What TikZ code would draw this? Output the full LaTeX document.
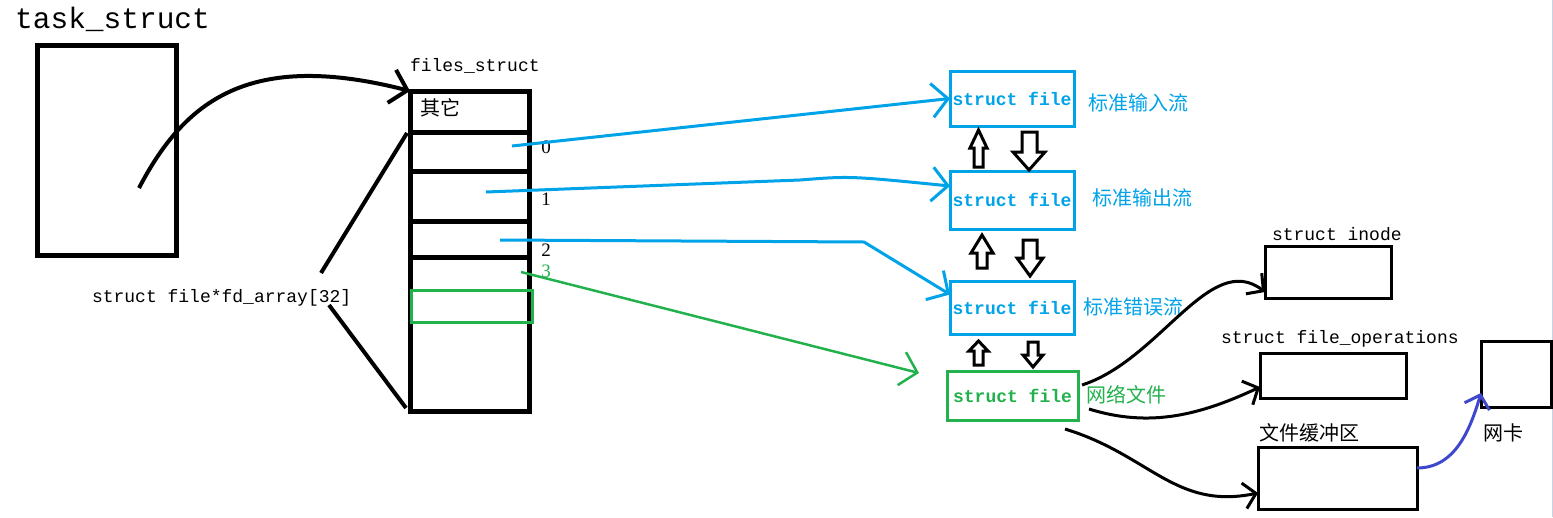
\documentclass[tikz,border=0pt]{standalone}
\usepackage{fontspec}
\setmonofont{Liberation Mono}
\newfontfamily\cjk{Noto Sans CJK SC}
\newfontfamily\digitfont{Liberation Serif}
\usetikzlibrary{arrows.meta}
\definecolor{pblue}{RGB}{0,162,232}
\definecolor{pgreen}{RGB}{34,177,76}
\definecolor{pviolet}{RGB}{63,72,204}
\definecolor{edgegray}{RGB}{200,212,228}
\begin{document}
\begin{tikzpicture}[x=1pt,y=-1pt,
  thickbox/.style={draw, line width=5pt, inner sep=0pt, outer sep=0pt, anchor=north west},
  thinbox/.style={draw, line width=3pt, inner sep=0pt, outer sep=0pt, anchor=north west},
  filebox/.style={draw=pblue, line width=3pt, inner sep=0pt, outer sep=0pt, anchor=north west,
    text=pblue, font=\ttfamily\bfseries\fontsize{18}{20}\selectfont, minimum width=124pt, minimum height=55pt},
  lbl/.style={inner sep=0pt, outer sep=0pt, anchor=base west, font=\ttfamily\fontsize{18}{20}\selectfont},
  numlbl/.style={inner sep=0pt, outer sep=0pt, anchor=center, font=\digitfont\fontsize{19}{21}\selectfont},
  cjklbl/.style={inner sep=0pt, outer sep=0pt, anchor=west, font=\cjk\fontsize{20}{22}\selectfont},
  harrow/.style={-{Straight Barb[length=16pt,width=34pt]}},
  sarrow/.style={-{Straight Barb[length=12pt,width=26pt]}},
  block/.style={draw, line width=3pt, fill=white, line join=miter},
]
\useasboundingbox (0,0) rectangle (1553,517);
\draw[edgegray, line width=1pt] (1552,0) -- (1552,517);

% task_struct
\node[inner sep=0pt, anchor=base west, font=\ttfamily\fontsize{29.5}{32}\selectfont] (tasklbl) at (15,28) {task\_struct};
\node[thickbox, minimum width=139pt, minimum height=210pt] (task) at (37,45) {};

% files_struct
\node[lbl] (fslbl) at (410,71) {files\_struct};
\node[thickbox, minimum width=119pt, minimum height=320pt] (fs) at (410,91) {};
\foreach \yy in {132,171,221,257}
  \draw[line width=5pt] (fs.west |- 0,\yy) -- (fs.east |- 0,\yy);
\node[thinbox, draw=pgreen, minimum width=121pt, minimum height=32pt] (fd3) at (411,290) {};
\node[cjklbl] (other) at (420,108) {其它};
\node[numlbl] (n0) at (546,147) {0};
\node[numlbl] (n1) at (546,199) {1};
\node[numlbl] (n2) at (546,250) {2};
\node[numlbl, text=pgreen] (n3) at (546,271) {3};
\node[lbl] (fdlbl) at (92,302) {struct file*fd\_array[32]};

% task -> files_struct
\coordinate (t0) at (139,188);
\draw[line width=4pt, harrow] (t0) .. controls (185,100) and (250,50) .. (fs.north west);
% bracket lines
\coordinate (br1) at (321,273);
\coordinate (br2) at (329,305);
\coordinate (fsA) at (407,133);
\coordinate (fsB) at (406,408);
\draw[line width=4pt] (br1) -- (fsA);
\draw[line width=4pt] (br2) -- (fsB);

% struct file boxes
\node[filebox] (f0) at (950,71) {struct file};
\node[filebox, minimum height=58pt] (f1) at (950,171) {struct file};
\node[filebox, minimum height=53pt] (f2) at (950,281) {struct file};
\node[filebox, draw=pgreen, text=pgreen, minimum width=131pt, minimum height=49pt] (f3) at (947,371) {struct file};

\node[cjklbl, text=pblue] (l0) at (1088,103) {标准输入流};
\node[cjklbl, text=pblue] (l1) at (1092,198) {标准输出流};
\node[cjklbl, text=pblue] (l2) at (1083,307) {标准错误流};
\node[cjklbl, text=pgreen] (l3) at (1086,395) {网络文件};

% fd -> struct file arrows
\coordinate (s0) at (512,146);
\coordinate (s1) at (486,192);
\coordinate (s2) at (500,240);
\coordinate (s3) at (521,272);
\coordinate (e3) at (919,373);
\draw[pblue, line width=3pt, harrow] (s0) -- (f0.west);
\draw[pblue, line width=3pt, harrow] (s1) -- (800,180) .. controls (850,176) .. ([yshift=14pt]f1.west);
\draw[pblue, line width=3pt, harrow] (s2) -- (864,242) -- ([yshift=13pt]f2.west);
\draw[pgreen, line width=2.5pt, harrow] (s3) -- (e3);

% hollow block arrows
\draw[block] (974,167) -- (974,148) -- (970,148) -- (978.5,130) -- (987,148) -- (983,148) -- (983,167) -- cycle;
\draw[block] (1022,132) -- (1037,132) -- (1037,152) -- (1045,152) -- (1029,170) -- (1013,152) -- (1022,152) -- cycle;
\draw[block] (977,268) -- (977,253) -- (971,253) -- (982,235) -- (993,253) -- (987,253) -- (987,268) -- cycle;
\draw[block] (1023,240) -- (1037,240) -- (1037,258) -- (1043,258) -- (1030,276) -- (1017,258) -- (1023,258) -- cycle;
\draw[block] (974,365) -- (974,351) -- (969,351) -- (978.5,341) -- (988,351) -- (983,351) -- (983,365) -- cycle;
\draw[block] (1028,342) -- (1038,342) -- (1038,355) -- (1043,355) -- (1033,367) -- (1023,355) -- (1028,355) -- cycle;

% right side structures
\node[lbl] (inodelbl) at (1272,240) {struct inode};
\node[thinbox, minimum width=126pt, minimum height=52pt] (inode) at (1265,246) {};
\node[lbl] (fopslbl) at (1221,343) {struct file\_operations};
\node[thinbox, minimum width=146pt, minimum height=45pt] (fops) at (1260,353) {};
\node[cjklbl] (buflbl) at (1259,433) {文件缓冲区};
\node[thinbox, minimum width=159pt, minimum height=62pt] (buf) at (1258,447) {};
\node[thinbox, minimum width=70pt, minimum height=66pt] (nic) at (1481,341) {};
\node[cjklbl] (niclbl) at (1483,433) {网卡};

\coordinate (c1s) at (1082,385);
\coordinate (c2s) at (1089,409);
\coordinate (c3s) at (1065,429);
\draw[line width=3pt, sarrow] (c1s) .. controls (1160,360) and (1210,250) .. ([yshift=-20pt]inode.west);
\draw[line width=3pt, sarrow] (c2s) .. controls (1150,428) and (1200,415) .. ([yshift=-11.5pt]fops.west);
\draw[line width=3pt, sarrow] (c3s) .. controls (1150,455) and (1175,510) .. ([yshift=-15pt]buf.west);
\draw[pviolet, line width=3pt, sarrow] ([yshift=10pt]buf.east) .. controls (1455,468) and (1470,430) .. ([yshift=-19pt]nic.west);
\end{tikzpicture}
\end{document}
